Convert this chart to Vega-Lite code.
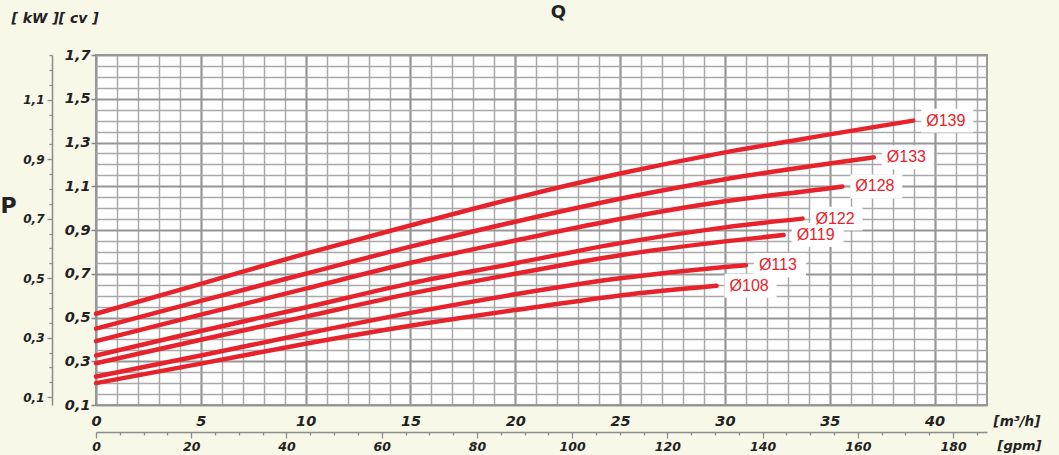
{
  "$schema": "https://vega.github.io/schema/vega-lite/v6.json",
  "width": 891,
  "height": 350,
  "autosize": {"type": "none"},
  "padding": {"left": 96, "top": 55, "right": 72, "bottom": 50},
  "background": "#f7f8e8",
  "title": {"text": "Q", "anchor": "middle", "dx": 17, "offset": 0, "dy": 29, "baseline": "bottom", "font": "DejaVu Sans", "fontSize": 18, "fontWeight": "bold", "color": "#222222"},
  "config": {
    "view": {"fill": "white", "stroke": "#999999", "strokeWidth": 2},
    "axis": {"labelFont": "DejaVu Sans", "labelFontWeight": "bold", "labelFontStyle": "italic", "labelColor": "#222222", "titleFont": "DejaVu Sans", "titleColor": "#222222", "labelOverlap": false, "labelBound": false}
  },
  "datasets": {
    "curves": [
      {"d": "Ø139", "Q": 0, "P": 0.517}, {"d": "Ø139", "Q": 5, "P": 0.654}, {"d": "Ø139", "Q": 10, "P": 0.792}, {"d": "Ø139", "Q": 15, "P": 0.921}, {"d": "Ø139", "Q": 20, "P": 1.046}, {"d": "Ø139", "Q": 25, "P": 1.158}, {"d": "Ø139", "Q": 30, "P": 1.255}, {"d": "Ø139", "Q": 35, "P": 1.337}, {"d": "Ø139", "Q": 38.98, "P": 1.4},
      {"d": "Ø133", "Q": 0, "P": 0.449}, {"d": "Ø133", "Q": 5, "P": 0.576}, {"d": "Ø133", "Q": 10, "P": 0.7}, {"d": "Ø133", "Q": 15, "P": 0.824}, {"d": "Ø133", "Q": 20, "P": 0.938}, {"d": "Ø133", "Q": 25, "P": 1.043}, {"d": "Ø133", "Q": 30, "P": 1.132}, {"d": "Ø133", "Q": 35, "P": 1.204}, {"d": "Ø133", "Q": 37.1, "P": 1.232},
      {"d": "Ø128", "Q": 0, "P": 0.392}, {"d": "Ø128", "Q": 5, "P": 0.513}, {"d": "Ø128", "Q": 10, "P": 0.632}, {"d": "Ø128", "Q": 15, "P": 0.75}, {"d": "Ø128", "Q": 20, "P": 0.852}, {"d": "Ø128", "Q": 25, "P": 0.95}, {"d": "Ø128", "Q": 30, "P": 1.031}, {"d": "Ø128", "Q": 35, "P": 1.091}, {"d": "Ø128", "Q": 35.6, "P": 1.099},
      {"d": "Ø122", "Q": 0, "P": 0.326}, {"d": "Ø122", "Q": 5, "P": 0.438}, {"d": "Ø122", "Q": 10, "P": 0.546}, {"d": "Ø122", "Q": 15, "P": 0.656}, {"d": "Ø122", "Q": 20, "P": 0.748}, {"d": "Ø122", "Q": 25, "P": 0.84}, {"d": "Ø122", "Q": 30, "P": 0.912}, {"d": "Ø122", "Q": 33.7, "P": 0.952},
      {"d": "Ø119", "Q": 0, "P": 0.291}, {"d": "Ø119", "Q": 5, "P": 0.398}, {"d": "Ø119", "Q": 10, "P": 0.504}, {"d": "Ø119", "Q": 15, "P": 0.609}, {"d": "Ø119", "Q": 20, "P": 0.7}, {"d": "Ø119", "Q": 25, "P": 0.785}, {"d": "Ø119", "Q": 30, "P": 0.848}, {"d": "Ø119", "Q": 32.8, "P": 0.877},
      {"d": "Ø113", "Q": 0, "P": 0.23}, {"d": "Ø113", "Q": 5, "P": 0.326}, {"d": "Ø113", "Q": 10, "P": 0.426}, {"d": "Ø113", "Q": 15, "P": 0.521}, {"d": "Ø113", "Q": 20, "P": 0.606}, {"d": "Ø113", "Q": 25, "P": 0.679}, {"d": "Ø113", "Q": 30, "P": 0.731}, {"d": "Ø113", "Q": 31.0, "P": 0.739},
      {"d": "Ø108", "Q": 0, "P": 0.2}, {"d": "Ø108", "Q": 5, "P": 0.289}, {"d": "Ø108", "Q": 10, "P": 0.38}, {"d": "Ø108", "Q": 15, "P": 0.462}, {"d": "Ø108", "Q": 20, "P": 0.534}, {"d": "Ø108", "Q": 25, "P": 0.601}, {"d": "Ø108", "Q": 29.6, "P": 0.645}
    ]
  },
  "layer": [
    {
      "data": {"name": "curves"},
      "encoding": {
        "x": {
          "field": "Q", "type": "quantitative",
          "scale": {"domain": [0, 42.5], "nice": false, "zero": false},
          "axis": {
            "values": [0,1,2,3,4,5,6,7,8,9,10,11,12,13,14,15,16,17,18,19,20,21,22,23,24,25,26,27,28,29,30,31,32,33,34,35,36,37,38,39,40,41,42],
            "grid": true,
            "gridColor": {"condition": {"test": "datum.value % 5 === 0", "value": "#969696"}, "value": "#a9a9a9"},
            "gridWidth": {"condition": {"test": "datum.value % 5 === 0", "value": 2.2}, "value": 1.5},
            "ticks": false, "domain": false,
            "labelExpr": "datum.value % 5 === 0 ? datum.label : ''",
            "labelFontSize": 14.5, "labelPadding": 9, "labelFlush": false,
            "title": "[m³/h]", "titleX": 897, "titleY": 16, "titleAlign": "left", "titleBaseline": "middle", "titleAngle": 0,
            "titleFontSize": 13.5, "titleFontWeight": "bold", "titleFontStyle": "italic"
          }
        },
        "y": {
          "field": "P", "type": "quantitative",
          "scale": {"domain": [0.1, 1.7], "nice": false, "zero": false},
          "axis": {
            "values": [0.1,0.15,0.2,0.25,0.3,0.35,0.4,0.45,0.5,0.55,0.6,0.65,0.7,0.75,0.8,0.85,0.9,0.95,1.0,1.05,1.1,1.15,1.2,1.25,1.3,1.35,1.4,1.45,1.5,1.55,1.6,1.65,1.7],
            "grid": true,
            "gridColor": {"condition": {"test": "abs((datum.value - 0.1) / 0.2 - round((datum.value - 0.1) / 0.2)) < 0.01", "value": "#969696"}, "value": "#a9a9a9"},
            "gridWidth": {"condition": {"test": "abs((datum.value - 0.1) / 0.2 - round((datum.value - 0.1) / 0.2)) < 0.01", "value": 2.2}, "value": 1.5},
            "tickSize": {"condition": {"test": "abs((datum.value - 0.1) / 0.2 - round((datum.value - 0.1) / 0.2)) < 0.01", "value": 5}, "value": 0},
            "tickColor": "#888888", "tickWidth": 1.5,
            "domain": false,
            "labelExpr": "abs((datum.value - 0.1) / 0.2 - round((datum.value - 0.1) / 0.2)) < 0.01 ? replace(format(datum.value, '.1f'), '.', ',') : ''",
            "labelFontSize": 14.5, "labelPadding": 1,
            "title": "[ kW ][ cv ]", "titleX": -85, "titleY": -37, "titleAlign": "left", "titleBaseline": "middle", "titleAngle": 0,
            "titleFontSize": 14, "titleFontWeight": "bold", "titleFontStyle": "italic"
          }
        }
      },
      "layer": [
        {"mark": {"type": "line", "color": "#e8222b", "strokeWidth": 4.5, "interpolate": "monotone", "strokeCap": "round"}, "encoding": {"detail": {"field": "d"}}},
        {
          "transform": [{"aggregate": [{"op": "argmax", "field": "Q", "as": "last"}], "groupby": ["d"]}],
          "layer": [
            {"mark": {"type": "point", "shape": "M-1,-0.46L1,-0.46L1,0.46L-1,0.46Z", "size": 2704, "filled": true, "fill": "white", "opacity": 1, "strokeWidth": 0, "xOffset": 34},
             "encoding": {"x": {"field": "last.Q", "type": "quantitative"}, "y": {"field": "last.P", "type": "quantitative"}}},
            {"mark": {"type": "text", "align": "left", "baseline": "middle", "dx": 13, "font": "Liberation Sans", "fontSize": 16, "color": "#e8222b"},
             "encoding": {"x": {"field": "last.Q", "type": "quantitative"}, "y": {"field": "last.P", "type": "quantitative"}, "text": {"field": "d"}}}
          ]
        }
      ]
    },
    {
      "data": {"values": [{"a": 0}]},
      "mark": {"type": "point", "opacity": 0},
      "encoding": {
        "x": {
          "datum": 0, "type": "quantitative",
          "scale": {"domain": [0, 187.12], "nice": false, "zero": false},
          "axis": {
            "orient": "bottom", "offset": 27,
            "values": [0,5,10,15,20,25,30,35,40,45,50,55,60,65,70,75,80,85,90,95,100,105,110,115,120,125,130,135,140,145,150,155,160,165,170,175,180,185],
            "grid": false,
            "domain": true, "domainColor": "#8c8c8c", "domainWidth": 1.5,
            "tickColor": "#8c8c8c", "tickWidth": 1.3,
            "tickSize": {"condition": {"test": "datum.value % 20 === 0", "value": 6}, "value": 3},
            "labelExpr": "datum.value % 20 === 0 ? datum.label : ''",
            "labelFontSize": 12.5, "labelPadding": 2, "labelFlush": false,
            "title": "[gpm]", "titleX": 901, "titleY": 13, "titleAlign": "left", "titleBaseline": "middle", "titleAngle": 0,
            "titleFontSize": 13, "titleFontWeight": "bold", "titleFontStyle": "italic"
          }
        },
        "y": {
          "datum": 0.1, "type": "quantitative",
          "scale": {"domain": [0.07355, 1.25035], "nice": false, "zero": false},
          "axis": {
            "orient": "left", "offset": 44,
            "values": [0.1,0.15,0.2,0.25,0.3,0.35,0.4,0.45,0.5,0.55,0.6,0.65,0.7,0.75,0.8,0.85,0.9,0.95,1.0,1.05,1.1,1.15,1.2,1.25],
            "grid": false,
            "domain": true, "domainColor": "#8c8c8c", "domainWidth": 1.5,
            "tickColor": "#8c8c8c", "tickWidth": 1.3,
            "tickSize": {"condition": {"test": "abs((datum.value - 0.1) / 0.2 - round((datum.value - 0.1) / 0.2)) < 0.01", "value": 5}, "value": 3},
            "labelExpr": "abs((datum.value - 0.1) / 0.2 - round((datum.value - 0.1) / 0.2)) < 0.01 ? replace(format(datum.value, '.1f'), '.', ',') : ''",
            "labelFontSize": 12, "labelPadding": 3,
            "title": "P", "titleX": -44, "titleY": 150, "titleAlign": "center", "titleBaseline": "middle", "titleAngle": 0,
            "titleFontSize": 22, "titleFontWeight": "bold", "titleFontStyle": "normal"
          }
        }
      }
    }
  ],
  "resolve": {"scale": {"x": "independent", "y": "independent"}}
}
